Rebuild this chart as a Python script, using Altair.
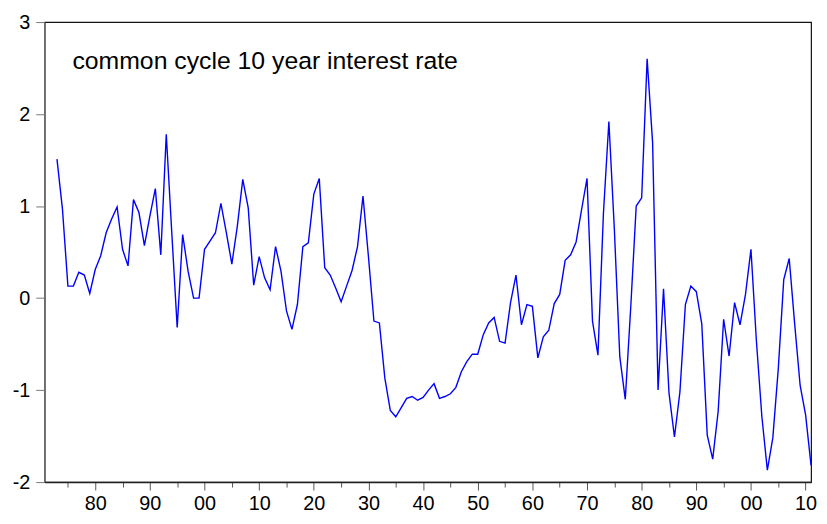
import altair as alt
import pandas as pd

start_year = 1873
values = [
    1.51, 0.97, 0.13, 0.13, 0.28, 0.25, 0.05,              # 1873-1879
    0.31, 0.46, 0.71, 0.86, 0.99, 0.53, 0.35, 1.07, 0.93, 0.57,  # 1880s
    0.89, 1.19, 0.47, 1.78, 0.72, -0.32, 0.69, 0.29, 0.00, 0.00,  # 1890s
    0.53, 0.62, 0.71, 1.03, 0.71, 0.37, 0.78, 1.29, 0.98, 0.14,  # 1900s
    0.45, 0.22, 0.09, 0.56, 0.29, -0.14, -0.34, -0.07, 0.56, 0.60,  # 1910s
    1.13, 1.30, 0.33, 0.25, 0.11, -0.04, 0.13, 0.30, 0.56, 1.11,  # 1920s
    0.45, -0.25, -0.27, -0.87, -1.22, -1.29, -1.19, -1.09, -1.07, -1.11,  # 1930s
    -1.08, -1.00, -0.93, -1.09, -1.07, -1.04, -0.97, -0.80, -0.69, -0.61,  # 1940s
    -0.61, -0.40, -0.27, -0.21, -0.47, -0.49, -0.05, 0.25, -0.29, -0.07,  # 1950s
    -0.09, -0.65, -0.42, -0.35, -0.06, 0.04, 0.41, 0.47, 0.61, 0.96,  # 1960s
    1.30, -0.25, -0.62, 0.92, 1.92, 0.75, -0.64, -1.10, -0.10, 1.00,  # 1970s
    1.09, 2.60, 1.69, -1.00, 0.10, -1.03, -1.51, -1.02, -0.07, 0.13,  # 1980s
    0.07, -0.28, -1.49, -1.75, -1.23, -0.23, -0.63, -0.05, -0.29, 0.04,  # 1990s
    0.53, -0.47, -1.29, -1.87, -1.52, -0.77, 0.20, 0.43, -0.28, -0.95,  # 2000s
    -1.27, -1.82,  # 2010-2011
]
years = list(range(start_year, start_year + len(values)))
x_ticks = list(range(1875, 2011, 5))
y_ticks = [-2, -1, 0, 1, 2, 3]
title_text = "common cycle 10 year interest rate"

df = pd.DataFrame({"year": years, "value": values})

FONT = "Liberation Sans"

line = alt.Chart(df).mark_line(color="#0000FF", strokeWidth=1.4).encode(
    x=alt.X(
        "year:Q",
        scale=alt.Scale(domain=[1870.75, 2011], nice=False, zero=False),
        axis=alt.Axis(
            title=None,
            values=x_ticks,
            grid=False,
            domain=True,
            domainColor="#222222",
            domainWidth=1.5,
            tickColor="#555555",
            tickWidth=1,
            tickSize={"condition": {"test": "datum.value % 10 == 0", "value": 8}, "value": 5},
            labelExpr="datum.value % 10 == 0 ? ((datum.value % 100) < 10 ? '0' + (datum.value % 100) : '' + (datum.value % 100)) : ''",
            labelFont=FONT,
            labelFontSize=20,
            labelColor="black",
            labelPadding=4,
            labelFlush=False,
            labelOverlap=False,
        ),
    ),
    y=alt.Y(
        "value:Q",
        scale=alt.Scale(domain=[-2, 3], nice=False, zero=False),
        axis=alt.Axis(
            title=None,
            values=y_ticks,
            grid=False,
            domain=False,
            tickColor="#777777",
            tickSize=9,
            tickWidth=1,
            labelExpr="'' + datum.value",
            labelFont=FONT,
            labelFontSize=20,
            labelColor="black",
            labelPadding=6,
            labelFlush=False,
        ),
    ),
)

title = alt.Chart(pd.DataFrame({"t": [title_text]})).mark_text(
    align="left", baseline="alphabetic", font=FONT, fontSize=25, color="black"
).encode(text="t:N", x=alt.value(28), y=alt.value(47))

chart = (
    alt.layer(line, title)
    .properties(
        width=773,
        height=464,
        padding={"left": 37, "top": 12, "right": 8, "bottom": 30},
        autosize=alt.AutoSizeParams(type="none"),
        background="white",
    )
    .configure_view(stroke="#111111", strokeWidth=1.2)
)

chart.save("out.html", embed_options={"renderer": "svg", "actions": False})
